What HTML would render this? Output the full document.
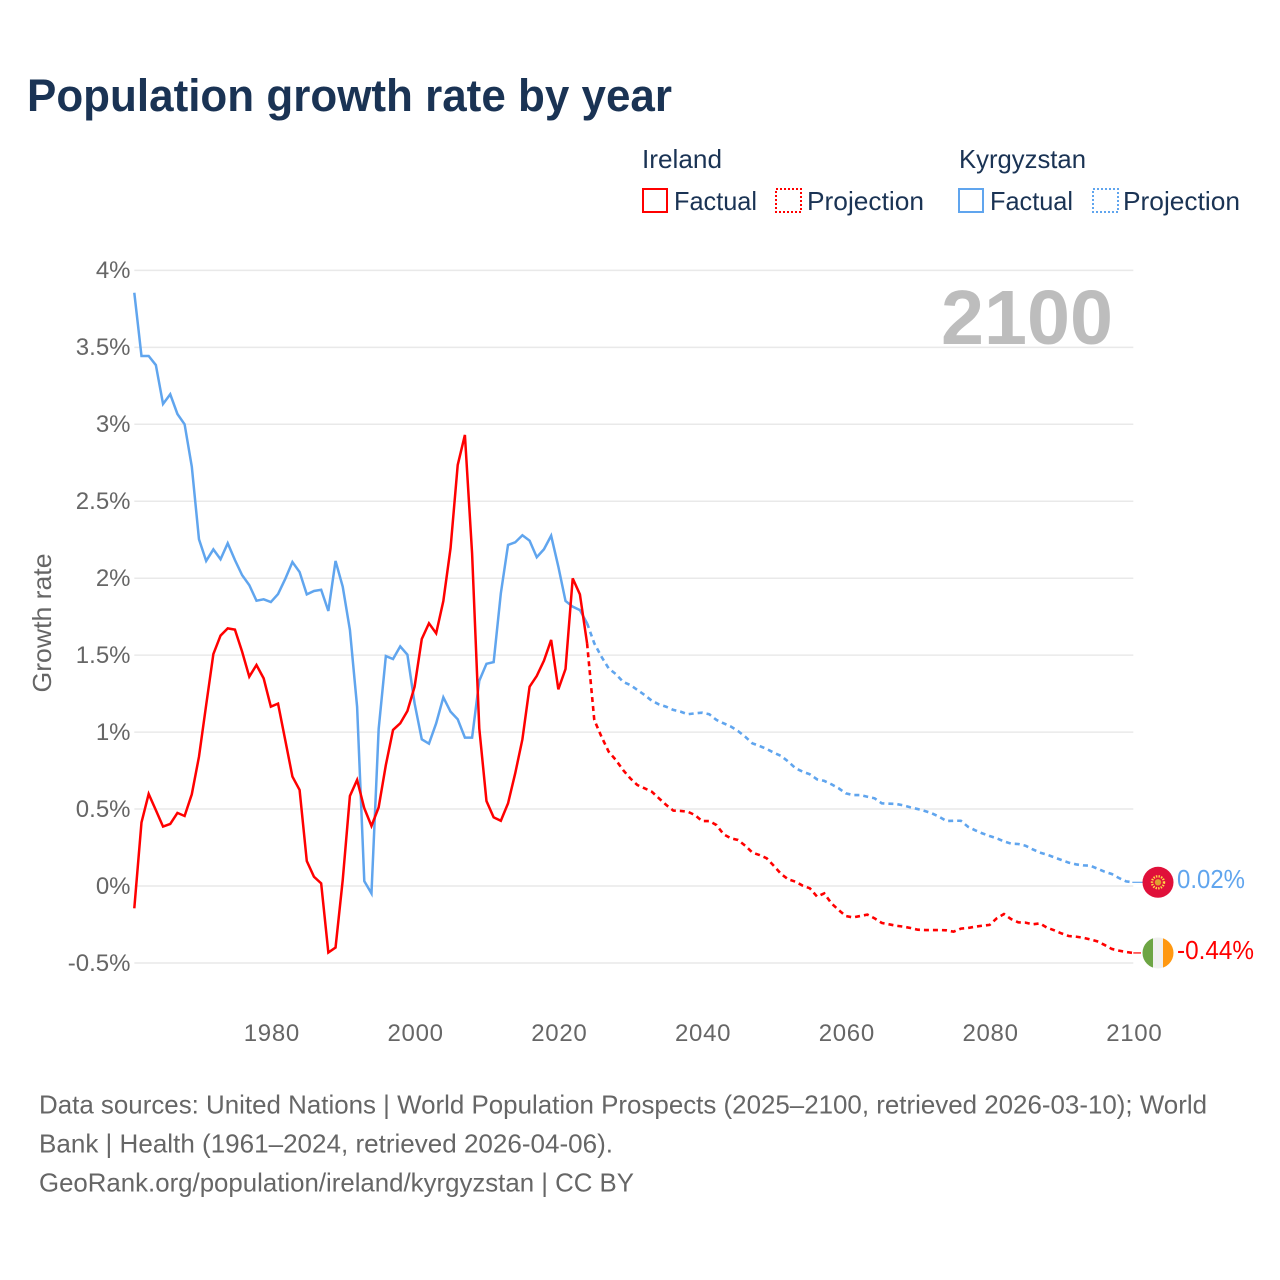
<!DOCTYPE html>
<html lang="en">
<head>
<meta charset="utf-8">
<title>Population growth rate by year</title>
<style>
  html, body { margin: 0; padding: 0; background: #fff; }
  svg { display: block; font-family: "Liberation Sans", sans-serif; }
</style>
</head>
<body>
<svg id="chart" xmlns="http://www.w3.org/2000/svg" width="1280" height="1280" viewBox="0 0 1280 1280">
  <rect x="0" y="0" width="1280" height="1280" fill="#fff"/>
  <text x="27" y="111" font-size="45" font-weight="700" fill="#1a3354" textLength="645" lengthAdjust="spacingAndGlyphs">Population growth rate by year</text>

  <g font-size="26" fill="#1a3354">
    <text x="642" y="168" textLength="80" lengthAdjust="spacingAndGlyphs">Ireland</text>
    <text x="959" y="168" textLength="127" lengthAdjust="spacingAndGlyphs">Kyrgyzstan</text>
    <g>
      <rect x="643" y="189" width="24" height="23" fill="none" stroke="#ff0000" stroke-width="2"/>
      <text x="674" y="210" textLength="83" lengthAdjust="spacingAndGlyphs">Factual</text>
    </g>
    <g>
      <rect x="776" y="189" width="25" height="23" fill="none" stroke="#ff0000" stroke-width="2" stroke-dasharray="2 2"/>
      <text x="807" y="210" textLength="117" lengthAdjust="spacingAndGlyphs">Projection</text>
    </g>
    <g>
      <rect x="959" y="189" width="24" height="23" fill="none" stroke="#60a5ee" stroke-width="2"/>
      <text x="990" y="210" textLength="83" lengthAdjust="spacingAndGlyphs">Factual</text>
    </g>
    <g>
      <rect x="1093" y="189" width="25" height="23" fill="none" stroke="#60a5ee" stroke-width="2" stroke-dasharray="2 2"/>
      <text x="1123" y="210" textLength="117" lengthAdjust="spacingAndGlyphs">Projection</text>
    </g>
  </g>

  <g id="grid"></g>
  <g id="y-ticks" font-size="24" fill="#666" text-anchor="end"></g>
  <g id="x-ticks" font-size="24" fill="#666" text-anchor="middle"></g>
  <text transform="translate(51,623) rotate(-90)" text-anchor="middle" font-size="26" fill="#666" textLength="139" lengthAdjust="spacingAndGlyphs">Growth rate</text>

  <text x="1113" y="344" text-anchor="end" font-size="77" font-weight="700" fill="#bdbdbd" textLength="172" lengthAdjust="spacingAndGlyphs">2100</text>

  <g id="series"></g>

  <g id="marker-kyrgyzstan">
    <circle cx="1158" cy="0" r="15.5" fill="#e0103a"/>
    <circle cx="1158" cy="0" r="6" fill="none" stroke="#ffda44" stroke-width="2.4" stroke-dasharray="1.4 1.2"/>
    <circle cx="1158" cy="0" r="3.2" fill="#e0a030"/>
  </g>
  <g id="marker-ireland">
    <clipPath id="ie-clip"><circle cx="1158" cy="0" r="15.5"/></clipPath>
    <g clip-path="url(#ie-clip)">
      <rect x="1142" y="-16" width="11" height="32" fill="#6da544"/>
      <rect x="1153" y="-16" width="10" height="32" fill="#f0f0f0"/>
      <rect x="1163" y="-16" width="11" height="32" fill="#ff9811"/>
    </g>
  </g>
  <text id="label-kyrgyzstan" x="1177" y="888" font-size="26" fill="#60a5ee" textLength="68" lengthAdjust="spacingAndGlyphs">0.02%</text>
  <text id="label-ireland" x="1177" y="959" font-size="26" fill="#ff0000" textLength="77" lengthAdjust="spacingAndGlyphs">-0.44%</text>

  <g font-size="26" fill="#666">
    <text x="39" y="1113.5" textLength="1168" lengthAdjust="spacingAndGlyphs">Data sources: United Nations | World Population Prospects (2025–2100, retrieved 2026-03-10); World</text>
    <text x="39" y="1152.5" textLength="574" lengthAdjust="spacingAndGlyphs">Bank | Health (1961–2024, retrieved 2026-04-06).</text>
    <text x="39" y="1191.5" textLength="595" lengthAdjust="spacingAndGlyphs">GeoRank.org/population/ireland/kyrgyzstan | CC BY</text>
  </g>
</svg>

<script>
const firstYear = 1961;
const lastYear = 2100;
const lastFactualYear = 2024;

const xTickYears = [1980, 2000, 2020, 2040, 2060, 2080, 2100];
const yTickValues = [-0.5, 0, 0.5, 1, 1.5, 2, 2.5, 3, 3.5, 4];
const yTickLabels = ['-0.5%', '0%', '0.5%', '1%', '1.5%', '2%', '2.5%', '3%', '3.5%', '4%'];

// Ireland, 1961-2024
const irelandFactual = [
  -0.145, 0.413, 0.598, 0.493, 0.386, 0.403, 0.475, 0.455, 0.596,
  0.840, 1.176, 1.507, 1.627, 1.674, 1.666, 1.523, 1.360, 1.436, 1.349,
  1.165, 1.185, 0.949, 0.711, 0.624, 0.162, 0.060, 0.017, -0.432, -0.400,
  0.038, 0.585, 0.689, 0.505, 0.390, 0.511, 0.786, 1.014, 1.057, 1.137,
  1.295, 1.605, 1.707, 1.642, 1.852, 2.194, 2.736, 2.931, 2.161, 1.024,
  0.552, 0.446, 0.424, 0.537, 0.732, 0.953, 1.295, 1.365, 1.464, 1.599,
  1.278, 1.410, 1.999, 1.895, 1.577
];

// Ireland, 2025-2100
const irelandProjection = [
  1.079, 0.970, 0.873, 0.819, 0.754,
  0.700, 0.656, 0.635, 0.613, 0.570, 0.527, 0.490, 0.488, 0.483, 0.461,
  0.422, 0.422, 0.396, 0.336, 0.310, 0.299, 0.262, 0.217, 0.201, 0.180,
  0.130, 0.078, 0.043, 0.028, 0.002, -0.015, -0.069, -0.048, -0.113, -0.156,
  -0.195, -0.204, -0.195, -0.186, -0.210, -0.240, -0.249, -0.258, -0.264, -0.273,
  -0.284, -0.286, -0.286, -0.286, -0.288, -0.297, -0.277, -0.273, -0.264, -0.258,
  -0.253, -0.210, -0.182, -0.215, -0.236, -0.238, -0.249, -0.243, -0.271, -0.288,
  -0.308, -0.325, -0.329, -0.336, -0.347, -0.360, -0.383, -0.409, -0.420, -0.429,
  -0.435
];

// Kyrgyzstan, 1961-2024
const kyrgyzstanFactual = [
  3.855, 3.444, 3.444, 3.385, 3.132, 3.195, 3.067, 3.000, 2.725,
  2.253, 2.112, 2.187, 2.123, 2.227, 2.118, 2.020, 1.955, 1.854, 1.863,
  1.845, 1.897, 1.995, 2.105, 2.040, 1.895, 1.917, 1.925, 1.787, 2.112,
  1.945, 1.664, 1.165, 0.032, -0.048, 1.020, 1.494, 1.475, 1.557, 1.503,
  1.187, 0.953, 0.925, 1.057, 1.226, 1.133, 1.083, 0.964, 0.964, 1.334,
  1.444, 1.455, 1.902, 2.216, 2.233, 2.279, 2.244, 2.136, 2.188, 2.276,
  2.075, 1.852, 1.815, 1.793, 1.707
];

// Kyrgyzstan, 2025-2100
const kyrgyzstanProjection = [
  1.577, 1.490, 1.414, 1.377, 1.327,
  1.306, 1.274, 1.241, 1.204, 1.180, 1.165, 1.144, 1.133, 1.116, 1.122,
  1.126, 1.116, 1.079, 1.057, 1.036, 1.007, 0.970, 0.927, 0.910, 0.890,
  0.866, 0.845, 0.808, 0.765, 0.743, 0.726, 0.693, 0.683, 0.661, 0.635,
  0.602, 0.591, 0.591, 0.580, 0.570, 0.537, 0.535, 0.533, 0.524, 0.511,
  0.500, 0.487, 0.472, 0.450, 0.422, 0.424, 0.424, 0.385, 0.362, 0.342,
  0.325, 0.310, 0.290, 0.275, 0.273, 0.262, 0.238, 0.217, 0.204, 0.186,
  0.169, 0.152, 0.141, 0.134, 0.132, 0.113, 0.093, 0.078, 0.052, 0.030,
  0.024
];

const SVG_NS = 'http://www.w3.org/2000/svg';

function xScale(year) {
  return 134.3 + (year - firstYear) * (999 / (lastYear - firstYear));
}
function yScale(value) {
  return 886 - value * 153.9;
}
function linePath(startYear, values) {
  return values.map(function (v, i) {
    return (i ? 'L' : 'M') + xScale(startYear + i).toFixed(2) + ' ' + yScale(v).toFixed(2);
  }).join(' ');
}

const gridGroup = document.getElementById('grid');
const yTickGroup = document.getElementById('y-ticks');
yTickValues.forEach(function (v, i) {
  const gridLine = document.createElementNS(SVG_NS, 'line');
  
  
  gridLine.setAttribute('x1', xScale(firstYear));
  gridLine.setAttribute('x2', xScale(lastYear));
  gridLine.setAttribute('y1', yScale(v));
  gridLine.setAttribute('y2', yScale(v));
  gridLine.setAttribute('stroke', '#e9e9e9');
  gridLine.setAttribute('stroke-width', '1.5');
  gridGroup.appendChild(gridLine);

  const tick = document.createElementNS(SVG_NS, 'text');
  
  
  tick.setAttribute('x', 130.5);
  tick.setAttribute('y', yScale(v) + 7.8);
  tick.textContent = yTickLabels[i];
  yTickGroup.appendChild(tick);
});

const xTickGroup = document.getElementById('x-ticks');
xTickYears.forEach(function (year) {
  const tick = document.createElementNS(SVG_NS, 'text');
  
  
  tick.setAttribute('x', xScale(year) + 1);
  tick.setAttribute('y', 1041);
  tick.setAttribute('letter-spacing', '0.7');
  tick.textContent = String(year);
  xTickGroup.appendChild(tick);
});

const seriesGroup = document.getElementById('series');

const kgFactualLine = document.createElementNS(SVG_NS, 'path');


kgFactualLine.setAttribute('d', linePath(firstYear, kyrgyzstanFactual));
kgFactualLine.setAttribute('fill', 'none');
kgFactualLine.setAttribute('stroke', '#60a5ee');
kgFactualLine.setAttribute('stroke-width', '2.5');
seriesGroup.appendChild(kgFactualLine);

const ieFactualLine = document.createElementNS(SVG_NS, 'path');


ieFactualLine.setAttribute('d', linePath(firstYear, irelandFactual));
ieFactualLine.setAttribute('fill', 'none');
ieFactualLine.setAttribute('stroke', '#ff0000');
ieFactualLine.setAttribute('stroke-width', '2.5');
seriesGroup.appendChild(ieFactualLine);

const kgLast = kyrgyzstanFactual[kyrgyzstanFactual.length - 1];
const ieLast = irelandFactual[irelandFactual.length - 1];

const kgProjectionLine = document.createElementNS(SVG_NS, 'path');


kgProjectionLine.setAttribute('d', linePath(lastFactualYear, [kgLast].concat(kyrgyzstanProjection)));
kgProjectionLine.setAttribute('fill', 'none');
kgProjectionLine.setAttribute('stroke', '#60a5ee');
kgProjectionLine.setAttribute('stroke-width', '2.6');
kgProjectionLine.setAttribute('stroke-dasharray', '5 4');
seriesGroup.appendChild(kgProjectionLine);

const ieProjectionLine = document.createElementNS(SVG_NS, 'path');


ieProjectionLine.setAttribute('d', linePath(lastFactualYear, [ieLast].concat(irelandProjection)));
ieProjectionLine.setAttribute('fill', 'none');
ieProjectionLine.setAttribute('stroke', '#ff0000');
ieProjectionLine.setAttribute('stroke-width', '2.6');
ieProjectionLine.setAttribute('stroke-dasharray', '5 4');
seriesGroup.appendChild(ieProjectionLine);

const kgEndY = yScale(kyrgyzstanProjection[kyrgyzstanProjection.length - 1]);
const ieEndY = yScale(irelandProjection[irelandProjection.length - 1]);

const kgLeader = document.createElementNS(SVG_NS, 'line');


kgLeader.setAttribute('x1', xScale(lastYear) - 1);
kgLeader.setAttribute('x2', 1143);
kgLeader.setAttribute('y1', kgEndY);
kgLeader.setAttribute('y2', kgEndY);
kgLeader.setAttribute('stroke', '#60a5ee');
kgLeader.setAttribute('stroke-width', '1.2');
seriesGroup.appendChild(kgLeader);

const ieLeader = document.createElementNS(SVG_NS, 'line');


ieLeader.setAttribute('x1', xScale(lastYear));
ieLeader.setAttribute('x2', 1141);
ieLeader.setAttribute('y1', ieEndY);
ieLeader.setAttribute('y2', ieEndY);
ieLeader.setAttribute('stroke', '#ff0000');
ieLeader.setAttribute('stroke-width', '1.2');
seriesGroup.appendChild(ieLeader);

document.getElementById('marker-kyrgyzstan').setAttribute('transform', 'translate(0,' + kgEndY.toFixed(2) + ')');
document.getElementById('marker-ireland').setAttribute('transform', 'translate(0,' + ieEndY.toFixed(2) + ')');
</script>
</body>
</html>
